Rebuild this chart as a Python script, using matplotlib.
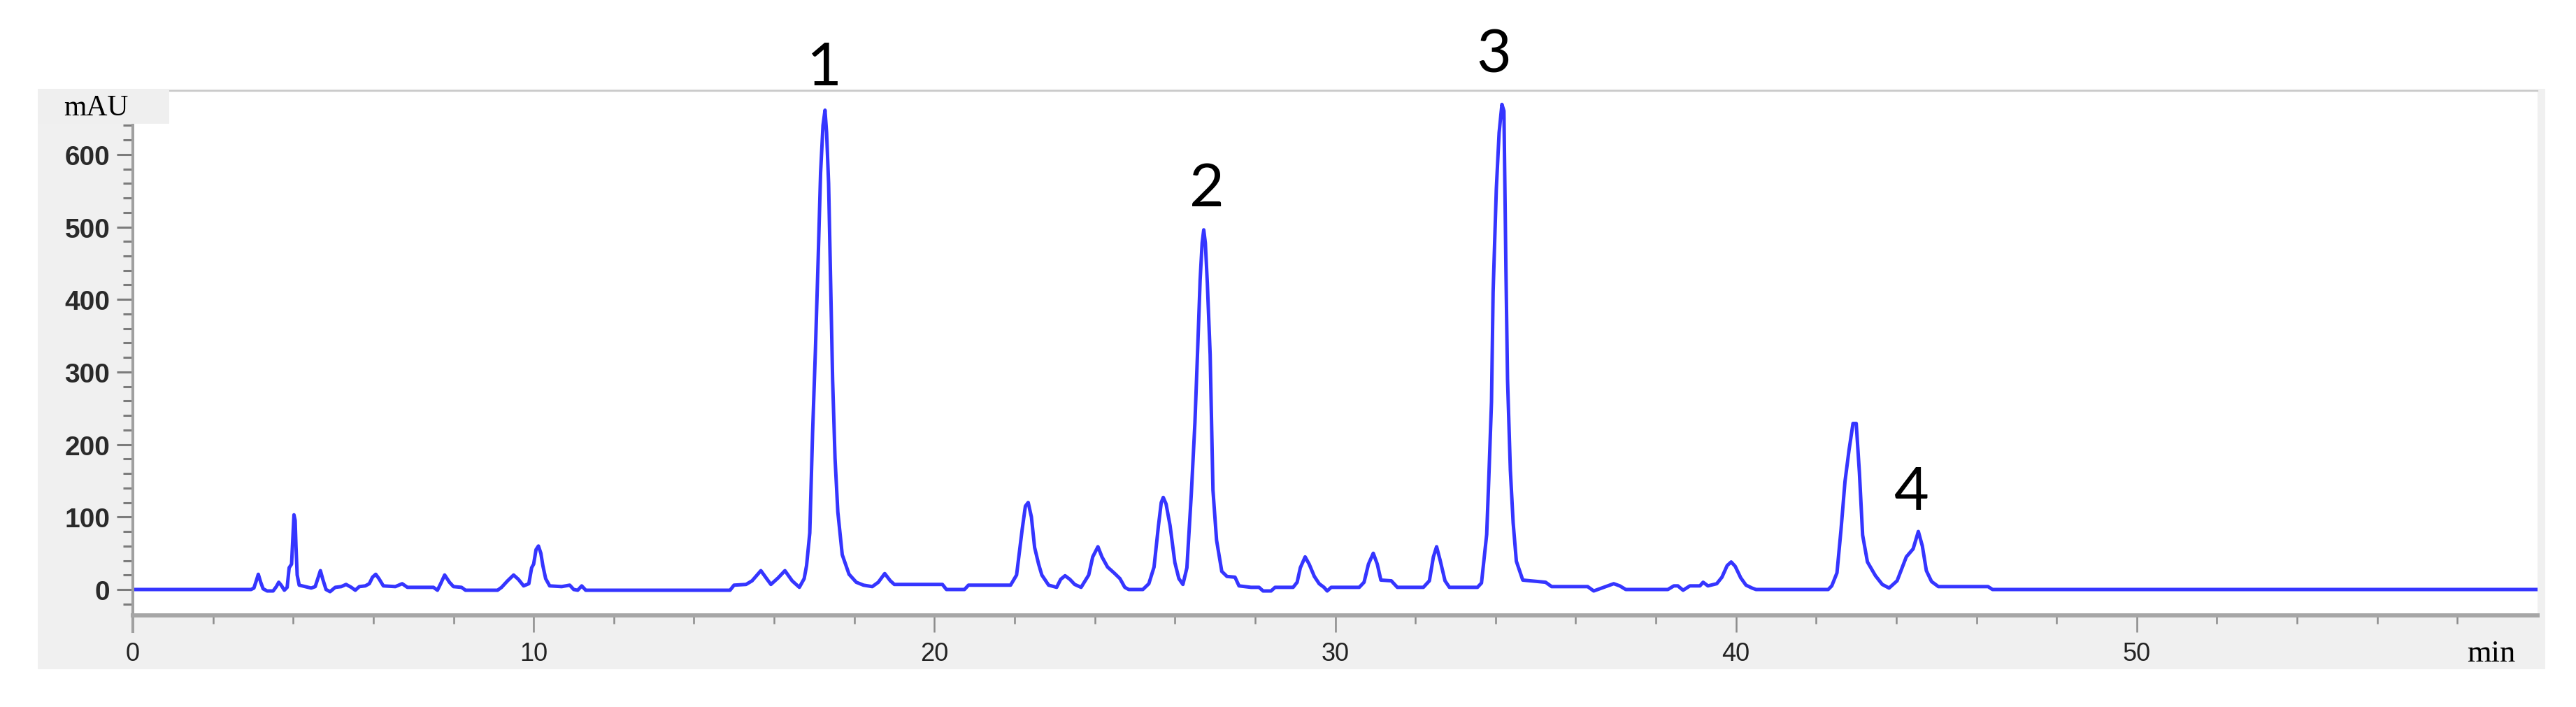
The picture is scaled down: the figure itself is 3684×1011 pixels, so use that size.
import matplotlib
matplotlib.use("Agg")
import matplotlib.pyplot as plt
from matplotlib.patches import Rectangle
import numpy as np

# chromatogram trace (retention time in min, absorbance in mAU)
time_min = [
    0.0, 2.95, 3.02, 3.08, 3.13, 3.19, 3.25, 3.35, 3.5, 3.58, 3.64, 3.70, 3.78,
    3.85, 3.90, 3.96, 3.99, 4.02, 4.05, 4.07, 4.10, 4.15, 4.30, 4.45,
    4.55, 4.62, 4.68, 4.74, 4.82, 4.92, 5.05, 5.20, 5.32, 5.45, 5.55, 5.65, 5.80,
    5.90, 5.98, 6.06, 6.14, 6.25, 6.55, 6.72, 6.85, 7.50, 7.60,
    7.68, 7.78, 7.90, 8.00, 8.20, 8.30, 9.10,
    9.20, 9.35, 9.50, 9.62, 9.75, 9.88, 9.95, 10.00, 10.06, 10.12, 10.18, 10.23, 10.30, 10.40,
    10.70, 10.90, 11.00, 11.10, 11.20, 11.30, 14.90, 15.00, 15.30,
    15.45, 15.67, 15.80, 15.92, 16.10, 16.27, 16.45, 16.63,
    16.75, 16.81, 16.89, 16.96, 17.03, 17.10, 17.16, 17.22, 17.27, 17.31, 17.36, 17.41,
    17.46, 17.52, 17.59, 17.70, 17.87, 18.05, 18.23, 18.45,
    18.60, 18.76, 18.90, 19.00, 20.20, 20.30, 20.75, 20.85, 21.90,
    22.05, 22.19, 22.27, 22.34, 22.42, 22.50, 22.60, 22.68, 22.85, 23.05,
    23.15, 23.26, 23.38, 23.50, 23.66,
    23.85, 23.95, 24.08, 24.18, 24.32, 24.50, 24.63, 24.75, 24.85, 25.20,
    25.35, 25.48, 25.59, 25.66, 25.71, 25.78, 25.88, 26.00, 26.10, 26.20, 26.30,
    26.41, 26.50, 26.57, 26.63, 26.68, 26.72, 26.76, 26.81, 26.88, 26.95, 27.04, 27.17,
    27.30, 27.50, 27.60, 27.90, 28.10, 28.20, 28.40, 28.50, 28.95,
    29.05, 29.13, 29.25, 29.35, 29.48, 29.60, 29.72, 29.80, 29.90, 30.60,
    30.72, 30.83, 30.95, 31.05, 31.14, 31.40, 31.55, 32.20,
    32.35, 32.45, 32.53, 32.62, 32.74, 32.85, 33.55, 33.65,
    33.78, 33.83, 33.90, 33.94, 34.02, 34.09, 34.16, 34.21, 34.26, 34.30, 34.37, 34.44,
    34.52, 34.68, 35.25, 35.40, 36.30, 36.45, 36.70, 36.95, 37.10, 37.25, 38.30,
    38.45, 38.55, 38.68, 38.85, 39.10, 39.18, 39.30,
    39.52, 39.65, 39.78, 39.88, 39.98, 40.12, 40.25, 40.40, 40.50,
    42.30, 42.39, 42.52, 42.62, 42.72, 42.82, 42.92, 43.00, 43.08, 43.16, 43.28, 43.48,
    43.65, 43.82, 44.02, 44.25, 44.42, 44.55, 44.65, 44.75, 44.88, 45.05, 46.29, 46.40, 60.0,
]
signal_mau = [
    0, 0, 2, 12, 21, 10, 1, -2, -2, 4, 10, 6, -1,
    3, 30, 35, 70, 103, 95, 60, 20, 6, 4, 2,
    4, 16, 26, 14, 0, -3, 3, 4, 7, 3, -1, 4, 5,
    8, 17, 21, 15, 5, 4, 8, 3, 3, -1,
    8, 20, 10, 4, 3, -1, -1,
    3, 12, 20, 14, 5, 8, 30, 35, 55, 60, 50, 33, 15, 5,
    4, 6, 0, -1, 5, -1, -1, 6, 7,
    12, 26, 16, 7, 16, 26, 12, 3,
    15, 33, 78, 216, 329, 457, 575, 640, 661, 630, 560, 427,
    289, 181, 107, 48, 21, 10, 6, 4,
    10, 22, 12, 7, 7, 0, 0, 6, 6,
    20, 83, 115, 120, 100, 58, 35, 20, 6, 3,
    14, 19, 14, 7, 3,
    20, 45, 59, 45, 31, 22, 15, 3, 0, 0,
    8, 31, 88, 120, 127, 118, 88, 37, 15, 7, 30,
    132, 230, 334, 427, 478, 496, 478, 422, 324, 137, 68, 25,
    18, 17, 5, 3, 3, -2, -2, 3, 3,
    10, 30, 45, 35, 18, 8, 3, -2, 3, 3,
    10, 35, 50, 35, 13, 12, 3, 3,
    12, 45, 59, 40, 12, 3, 3, 9,
    76, 149, 259, 410, 552, 630, 669, 660, 441, 290, 165, 92,
    39, 13, 10, 4, 4, -2, 3, 8, 5, 0, 0,
    5, 5, -1, 5, 5, 10, 5,
    8, 17, 33, 38, 32, 16, 6, 2, 0,
    0, 5, 23, 82, 149, 192, 229, 229, 161, 75, 38, 19,
    7, 2, 12, 45, 56, 80, 60, 26, 11, 4, 4, 0, 0,
]

# numbered peaks and where their labels sit
peak_labels = ["1", "2", "3", "4"]
label_time = [17.25, 26.80, 33.95, 44.37]
label_mau = [719, 553, 737, 134]

x_major = [0, 10, 20, 30, 40, 50]
y_major = [0, 100, 200, 300, 400, 500, 600]

W, H = 3684, 1012
fig = plt.figure(figsize=(W / 100, H / 100), dpi=100, facecolor="white")


def fx(px):
    return px / W


def fy(py):
    return 1 - py / H


# grey window panel behind the plot
fig.patches.append(Rectangle((fx(54), fy(958)), fx(3640 - 54), (958 - 128) / H,
                             transform=fig.transFigure, facecolor="#f0f0f0",
                             edgecolor="none", zorder=-5))

ax = fig.add_axes([fx(190), fy(881), fx(3629 - 190), (881 - 131) / H])
ax.set_facecolor("white")
ax.plot(time_min, signal_mau, color="#3535ff", lw=3.6, solid_joinstyle="round")
ax.set_xlim(0, 60)
ax.set_ylim(-35.7, 687.6)

ax.spines["right"].set_visible(False)
ax.spines["top"].set_color("#c8c8c8")
ax.spines["top"].set_linewidth(1.6)
ax.spines["bottom"].set_color("#a6a6a6")
ax.spines["bottom"].set_linewidth(4.3)
ax.spines["left"].set_color("#a0a0a0")
ax.spines["left"].set_linewidth(2.9)
ax.spines["left"].set_bounds(-58, 641)

ax.set_xticks(x_major)
ax.set_xticklabels([str(v) for v in x_major])
ax.set_xticks([v for v in range(2, 60, 2) if v % 10], minor=True)
ax.set_yticks(y_major)
ax.set_yticklabels([str(v) for v in y_major])
ax.set_yticks([v for v in range(-20, 641, 20) if v % 100], minor=True)

ax.tick_params(axis="x", which="major", direction="out", length=17, width=1.8,
               color="#8c8c8c", pad=10, labelsize=26, labelcolor="#222222")
ax.tick_params(axis="x", which="minor", direction="out", length=8.6, width=1.8,
               color="#8c8c8c")
ax.tick_params(axis="y", which="major", direction="out", length=16.5, width=2.2,
               color="#7c7c7c", pad=7, labelsize=28, labelcolor="#2a2a2a")
ax.tick_params(axis="y", which="minor", direction="out", length=10, width=2.2,
               color="#7c7c7c")
for lbl in ax.get_yticklabels():
    lbl.set_fontweight("bold")
    lbl.set_family("Liberation Sans")
for lbl in ax.get_xticklabels():
    lbl.set_family("Liberation Sans")

# unit labels
fig.patches.append(Rectangle((fx(54), fy(178)), fx(242 - 54), (178 - 128) / H,
                             transform=fig.transFigure, facecolor="#efefef",
                             edgecolor="none", zorder=1))
fig.text(fx(137), fy(165), "mAU", family="Liberation Serif", size=30,
         ha="center", va="baseline", color="black", zorder=2)
fig.text(fx(3563), fy(946), "min", family="Liberation Serif", size=32,
         ha="center", va="baseline", color="black")

for lab, t, v in zip(peak_labels, label_time, label_mau):
    ax.text(t, v, lab, family="Lato", size=62, ha="center", va="center",
            color="black", clip_on=False)

fig.savefig("out.png", dpi=100, facecolor="white")
